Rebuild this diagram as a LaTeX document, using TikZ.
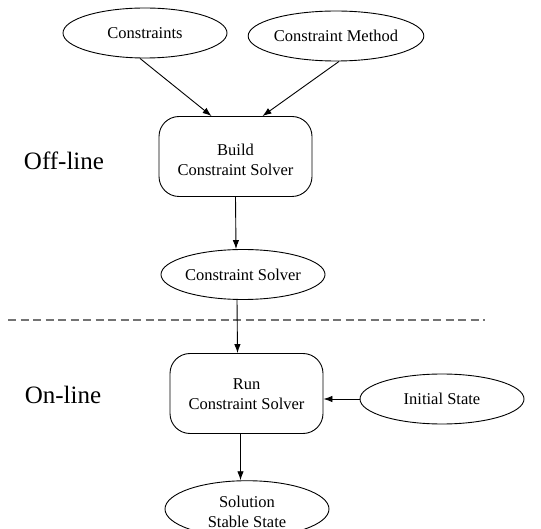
\documentclass[tikz,border=0pt]{standalone}
\usepackage{fontspec}
\setmainfont{Liberation Serif}
\usetikzlibrary{shapes.geometric,arrows.meta}
\newcommand{\lowtext}[2]{\raisebox{-#1}[\height][\depth]{\begin{tabular}{@{}c@{}}#2\end{tabular}}}
\begin{document}
\begin{tikzpicture}[x=1pt,y=-1pt,
  every node/.style={font=\fontsize{16.5}{20}\selectfont, align=center},
  oval/.style={draw, ellipse, line width=0.9pt, minimum width=164pt, minimum height=50pt, inner sep=0pt},
  procbox/.style={draw, rounded corners=20pt, line width=0.9pt, minimum width=153pt, minimum height=80pt, inner sep=0pt},
  arr/.style={-{Latex[length=9pt,width=6.5pt]}, line width=0.9pt},
  phase/.style={font=\fontsize{25}{28}\selectfont}
]
\renewcommand{\arraystretch}{1.0}
\useasboundingbox (0,0) rectangle (541,529);
\node[oval] (cons) at (145,33) {Constraints};
\node[oval] (meth) at (336,36) {Constraint Method};
\node[procbox] (build) at (235.5,156.5) {\lowtext{5pt}{Build\\Constraint Solver}};
\node[phase] (off) at (64,161) {Off-line};
\node[oval] (solver) at (243,274.5) {Constraint Solver};
\draw[black!55, dash pattern=on 8pt off 4.5pt, line width=1.3pt] (8,320) -- (485,320);
\node[procbox] (run) at (246.5,393.5) {\lowtext{1.5pt}{Run\\Constraint Solver}};
\node[phase] (on) at (63,395) {On-line};
\node[oval] (init) at (442,399) {Initial State};
\node[oval] (sol) at (247,509) {\lowtext{4pt}{Solution\\Stable State}};
\draw[arr] ([xshift=-5pt]cons.south) -- ([xshift=-24pt]build.north);
\draw[arr] ([xshift=3pt]meth.south) -- ([xshift=27pt]build.north);
\draw[arr] (build.south) -- ([xshift=-7pt]solver.north);
\draw[arr] ([xshift=-6pt]solver.south) -- ([xshift=-9pt]run.north);
\draw[arr] (init.west) -- (run.east |- init.west);
\draw[arr] ([xshift=-6pt]run.south) -- ([xshift=-6pt]run.south |- sol.north);
\end{tikzpicture}
\end{document}
